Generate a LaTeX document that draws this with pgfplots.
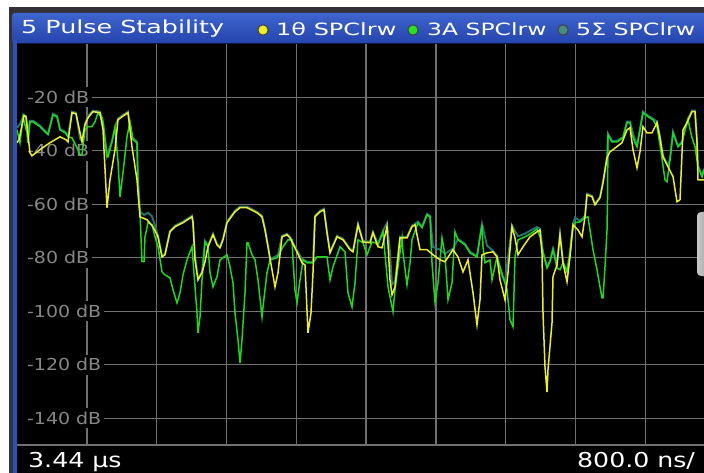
\documentclass[border=0pt]{standalone}
\usepackage{pgfplots}
\pgfplotsset{compat=1.18}
\usepackage{fontspec}
\setmainfont{DejaVu Sans}
\usepackage{graphicx}

\definecolor{trYellow}{RGB}{238,238,40}
\definecolor{trGreen}{RGB}{30,215,30}
\definecolor{trTeal}{RGB}{40,115,115}
\definecolor{gridGray}{RGB}{112,112,112}
\definecolor{lblGray}{RGB}{135,135,135}
\definecolor{barTop}{RGB}{62,100,205}
\definecolor{barBot}{RGB}{36,68,172}
\definecolor{frameDark}{RGB}{50,50,56}
\definecolor{sideBlue}{RGB}{45,80,185}

\newcommand{\dblabel}[1]{\node[anchor=west, fill=black, inner xsep=0pt, inner ysep=3.5pt,
  text=lblGray, font=\fontsize{16.5}{18}\selectfont] at (axis cs:17,#1)
  {\scalebox{1.15}[1]{\hspace{8.6pt}#1 dB\hspace{2.6pt}}};}

\begin{document}
\begin{tikzpicture}
% screen frame, title bar
\begin{scope}[x=1pt,y=-1pt]
  \fill[white] (0,0) rectangle (704,473);
  \fill[frameDark] (9,7) rectangle (704,473);
  \fill[black] (13,43) rectangle (704,473);
  \shade[top color=barTop, bottom color=barBot, rounded corners=3pt] (12,13) rectangle (712,43.5);
  \fill[sideBlue] (12.5,40) rectangle (16.5,473);
\end{scope}

\begin{axis}[
  at={(17pt,-445pt)}, anchor=south west,
  scale only axis, width=687pt, height=401.3pt,
  xmin=17, xmax=704, ymin=-150, ymax=0,
  axis background/.style={fill=black},
  axis line style={draw=none},
  xtick={86.8,156.6,226.4,296.2,366,435.8,505.6,575.4,645.2},
  ytick={-140,-120,-100,-80,-60,-40,-20},
  xticklabels={}, yticklabels={},
  major tick length=0pt,
  grid=major,
  grid style={draw=gridGray, line width=1.4pt},
  every axis plot/.append style={mark=none, line width=1.5pt},
]
% level labels sit on the grid, under the traces
\dblabel{-20}\dblabel{-40}\dblabel{-60}\dblabel{-80}
\dblabel{-100}\dblabel{-120}\dblabel{-140}

% trace 5 (max hold, mostly hidden)
\addplot[trTeal, line width=1.9pt] coordinates {
(17,-31.4)(20,-30.0)(24,-26.5)(26,-27.0)(28,-33.0)(30,-28.8)(33,-28.8)(40,-30.6)(43,-31.8)
(48,-33.6)(53,-26.2)(57,-26.9)(60,-31.8)(65,-32.9)(68,-34.4)(72,-25.4)(76,-25.8)(80,-35.5)
(82,-36.3)(85,-29.9)(88,-27.0)(93,-25.0)(100,-25.4)(103,-29.1)(107,-41.9)(112,-36.3)(115,-31.0)
(118,-28.0)(122,-26.9)(128,-25.4)(132,-35.0)(137,-36.6)(138,-50.0)(140,-62.8)(144,-64.0)
(148,-63.2)(152,-64.5)(155,-68.0)(158,-71.8)(162,-79.3)(165,-78.5)(170,-70.0)(175,-68.0)
(183,-66.5)(192,-64.3)(193,-66.5)(195,-79.0)(198,-87.9)(202,-85.2)(205,-73.7)(208,-75.5)
(213,-71.0)(217,-74.8)(220,-75.9)(223,-72.9)(227,-66.5)(235,-62.4)(240,-60.9)(247,-60.9)
(257,-62.8)(262,-64.3)(265,-69.2)(268,-75.5)(270,-80.4)(275,-79.6)(278,-79.0)(282,-71.8)
(287,-71.0)(290,-72.2)(295,-75.9)(302,-80.4)(307,-81.5)(313,-81.5)(315,-64.3)(320,-62.4)
(324,-61.7)(327,-70.3)(330,-77.8)(337,-71.8)(343,-72.9)(350,-76.6)(353,-77.4)(358,-67.3)
(363,-73.7)(370,-74.0)(373,-70.3)(378,-74.8)(383,-69.9)(387,-67.0)(390,-78.0)(392,-90.0)
(395,-89.0)(400,-72.2)(407,-72.2)(412,-68.0)(415,-67.3)(418,-66.5)(422,-68.4)(427,-63.6)
(430,-64.3)(433,-76.0)(440,-77.0)(445,-78.5)(453,-76.6)(458,-73.0)(465,-74.8)(470,-77.8)
(477,-79.3)(482,-67.3)(487,-75.5)(493,-77.4)(497,-79.3)(500,-85.0)(505,-89.0)(512,-68.0)
(518,-72.0)(525,-71.0)(532,-69.5)(537,-68.5)(540,-69.2)(543,-77.8)(547,-83.4)(550,-81.1)
(553,-76.6)(557,-82.3)(560,-71.0)(563,-81.5)(567,-85.0)(570,-77.8)(573,-67.3)(575,-65.0)
(580,-66.2)(585,-64.3)(587,-56.1)(592,-56.8)(595,-59.8)(600,-57.2)(603,-51.6)(607,-42.2)
(608,-33.6)(612,-36.3)(617,-36.3)(623,-34.8)(627,-29.1)(630,-29.1)(633,-33.6)(637,-38.1)
(640,-31.8)(643,-25.4)(648,-26.9)(653,-28.0)(657,-29.1)(660,-34.8)(663,-41.9)(668,-45.6)
(670,-43.0)(673,-32.9)(678,-38.1)(682,-36.6)(685,-31.8)(688,-28.0)(692,-25.0)(695,-25.0)
(697,-36.3)(698,-45.6)(702,-49.3)(704,-46.7)
};

% trace 3
\addplot[trGreen] coordinates {
(17,-32.2)(20,-37.0)(23,-27.3)(27,-33.3)(28,-37.0)(30,-29.2)(33,-29.2)(40,-31.0)(43,-32.2)
(48,-34.0)(53,-26.6)(57,-27.3)(60,-32.2)(65,-33.3)(68,-34.8)(72,-35.2)(77,-38.9)(80,-41.5)
(82,-41.5)(85,-32.2)(88,-31.0)(92,-31.0)(95,-29.2)(98,-25.8)(102,-27.7)(103,-29.5)(107,-42.3)
(108,-42.3)(112,-36.7)(115,-31.4)(118,-44.1)(120,-57.2)(123,-48.2)(127,-34.8)(130,-29.2)
(133,-35.9)(137,-37.0)(138,-54.6)(140,-63.2)(142,-81.5)(144,-81.5)(145,-72.2)(148,-66.9)
(152,-67.7)(155,-72.2)(158,-75.9)(162,-85.3)(165,-86.4)(170,-87.5)(173,-92.0)(177,-96.9)
(180,-93.1)(183,-86.4)(187,-80.8)(192,-75.9)(193,-80.8)(195,-90.9)(197,-100.6)(198,-108.1)
(200,-102.1)(202,-88.3)(205,-74.1)(208,-75.9)(210,-85.6)(213,-90.9)(217,-87.1)(220,-80.8)
(227,-78.9)(230,-83.4)(233,-89.4)(235,-100.6)(238,-110.7)(240,-119.3)(242,-110.7)(245,-93.1)
(247,-74.4)(248,-74.4)(252,-78.9)(255,-80.8)(258,-88.3)(262,-102.1)(263,-98.4)(267,-85.6)
(270,-80.8)(277,-80.0)(283,-75.9)(288,-73.3)(292,-73.3)(293,-80.8)(295,-92.0)(297,-96.9)
(300,-88.3)(303,-80.8)(307,-81.9)(313,-81.9)(317,-79.7)(327,-79.7)(330,-88.3)(333,-83.4)
(340,-75.9)(345,-77.8)(348,-93.1)(352,-98.4)(355,-89.4)(358,-73.3)(363,-74.4)(367,-78.9)
(372,-74.1)(375,-74.4)(378,-75.2)(383,-70.3)(388,-90.9)(390,-94.6)(393,-100.2)(395,-92.0)
(398,-83.4)(402,-72.6)(403,-78.2)(407,-90.1)(410,-81.9)(412,-73.3)(418,-66.9)(422,-68.8)
(427,-64.0)(430,-64.7)(432,-81.9)(435,-96.5)(438,-89.4)(442,-72.6)(445,-78.9)(448,-95.7)
(452,-89.4)(455,-70.3)(458,-73.3)(465,-75.2)(470,-78.2)(477,-79.7)(482,-67.7)(483,-75.9)
(485,-81.9)(490,-80.8)(492,-88.3)(497,-79.7)(503,-87.1)(507,-92.0)(510,-103.2)(513,-105.8)
(515,-79.7)(518,-73.3)(525,-72.2)(532,-70.7)(537,-69.2)(540,-72.2)(543,-78.2)(547,-83.8)
(550,-81.5)(553,-77.0)(557,-83.8)(560,-84.5)(563,-81.9)(567,-85.3)(570,-78.2)(572,-70.7)
(575,-66.9)(580,-66.6)(585,-65.1)(588,-64.7)(590,-69.6)(593,-77.0)(597,-84.5)(600,-90.9)
(602,-95.0)(603,-95.0)(605,-83.4)(607,-69.6)(607.5,-58.3)(608,-34.0)(612,-36.7)(617,-36.7)
(623,-35.2)(627,-29.5)(630,-29.5)(632,-34.0)(635,-37.0)(637,-38.5)(640,-32.2)(643,-25.8)
(648,-27.3)(653,-28.4)(657,-31.0)(660,-37.8)(665,-50.9)(667,-51.6)(670,-43.4)(673,-33.3)
(678,-38.5)(682,-37.0)(685,-32.2)(688,-28.4)(692,-35.2)(695,-38.5)(698,-46.0)(702,-49.7)
(704,-47.1)
};

% trace 1
\addplot[trYellow] coordinates {
(17,-37.0)(19,-35.9)(24,-26.9)(26,-27.3)(30,-40.8)(32,-41.9)(40,-39.6)(50,-37.0)(60,-34.8)
(66,-35.9)(68,-36.7)(72,-25.8)(76,-26.2)(82,-36.7)(85,-30.3)(88,-27.7)(93,-25.4)(100,-25.8)
(103,-32.2)(107,-61.3)(110,-50.9)(115,-39.6)(118,-28.4)(122,-27.3)(128,-25.8)(132,-38.5)
(137,-50.9)(140,-64.7)(147,-65.8)(153,-68.4)(158,-72.2)(162,-79.7)(165,-78.9)(170,-70.3)
(175,-68.4)(183,-66.9)(192,-64.7)(193,-66.9)(195,-80.8)(198,-88.3)(202,-85.6)(205,-81.5)
(208,-75.9)(213,-71.4)(217,-75.2)(220,-76.3)(223,-73.3)(227,-66.9)(235,-62.8)(240,-61.3)
(247,-61.3)(257,-63.2)(262,-64.7)(265,-69.6)(268,-75.9)(272,-84.5)(275,-90.9)(278,-85.6)
(282,-72.2)(287,-71.4)(290,-72.6)(295,-76.3)(302,-81.9)(305,-82.7)(308,-108.1)(311,-100.6)
(313,-85.6)(315,-64.7)(320,-62.8)(324,-62.1)(327,-70.7)(330,-78.2)(337,-72.2)(343,-73.3)
(350,-77.0)(353,-77.8)(358,-67.7)(363,-74.1)(370,-74.4)(373,-70.7)(378,-75.9)(382,-76.3)
(387,-68.4)(390,-88.3)(392,-93.9)(395,-90.9)(400,-72.6)(407,-72.6)(412,-68.4)(415,-67.7)
(420,-77.0)(427,-77.0)(433,-78.9)(440,-80.8)(445,-81.5)(453,-77.0)(458,-79.7)(463,-85.3)
(468,-80.8)(473,-93.1)(477,-105.1)(480,-95.7)(482,-78.9)(487,-78.2)(493,-77.8)(497,-79.7)
(500,-88.3)(505,-95.7)(508,-85.6)(512,-68.4)(515,-72.6)(518,-78.9)(523,-75.9)(530,-72.2)
(537,-70.3)(540,-69.6)(542,-78.2)(543,-100.6)(545,-120.8)(547,-130.2)(548,-121.9)(552,-104.3)
(553,-87.1)(557,-82.7)(560,-71.4)(563,-81.9)(567,-89.0)(570,-79.7)(573,-67.7)(578,-69.6)
(582,-72.2)(585,-64.7)(587,-56.5)(592,-57.2)(595,-60.2)(600,-57.6)(603,-52.0)(607,-42.6)
(610,-40.4)(613,-39.6)(622,-37.0)(627,-32.2)(630,-31.4)(633,-39.6)(637,-46.4)(640,-40.4)
(643,-31.0)(647,-33.3)(652,-33.3)(657,-29.5)(660,-35.2)(663,-42.3)(668,-46.0)(673,-49.7)
(677,-59.1)(680,-58.3)(683,-32.2)(687,-29.5)(692,-25.4)(695,-25.4)(697,-36.7)(698,-50.9)
(704,-50.9)
};
\end{axis}

% title, trace legend, status bar
\begin{scope}[x=1pt,y=-1pt]
  \draw[gridGray, line width=1.4pt] (17,445) -- (704,445);
  \shade[left color=gray!45, right color=gray!80, rounded corners=4pt] (697,212) rectangle (714,276);
  \node[anchor=base west, inner sep=0pt, text=white, font=\fontsize{18}{20}\selectfont]
    at (21,34) {\scalebox{1.41}[1]{5 Pulse Stability}};
  \filldraw[fill=trYellow, draw=black!75, line width=1pt] (263,30) circle (5.2pt);
  \filldraw[fill={rgb,255:red,40;green,225;blue,40}, draw=black!75, line width=1pt] (413,30) circle (5.2pt);
  \filldraw[fill={rgb,255:red,70;green,140;blue,130}, draw=black!75, line width=1pt] (563,30) circle (5.2pt);
  \node[anchor=base west, inner sep=0pt, text=white, font=\fontsize{16.9}{18}\selectfont]
    at (276,36) {\scalebox{1.42}[1]{1θ SPClrw}};
  \node[anchor=base west, inner sep=0pt, text=white, font=\fontsize{16.9}{18}\selectfont]
    at (427,36) {\scalebox{1.39}[1]{3A SPClrw}};
  \node[anchor=base west, inner sep=0pt, text=white, font=\fontsize{16.9}{18}\selectfont]
    at (576,36) {\scalebox{1.40}[1]{5Σ SPClrw}};
  \node[anchor=base west, inner sep=0pt, text=white, font=\fontsize{20.5}{22}\selectfont]
    at (28,467) {\scalebox{1.23}[1]{3.44 µs}};
  \node[anchor=base west, inner sep=0pt, text=white, font=\fontsize{20.5}{22}\selectfont]
    at (577,467) {\scalebox{1.23}[1]{800.0 ns/}};
\end{scope}
% the screenshot is cut at the right edge
\pgfresetboundingbox
\path[use as bounding box] (0pt,0pt) rectangle (704pt,-473pt);
\end{tikzpicture}
\end{document}
